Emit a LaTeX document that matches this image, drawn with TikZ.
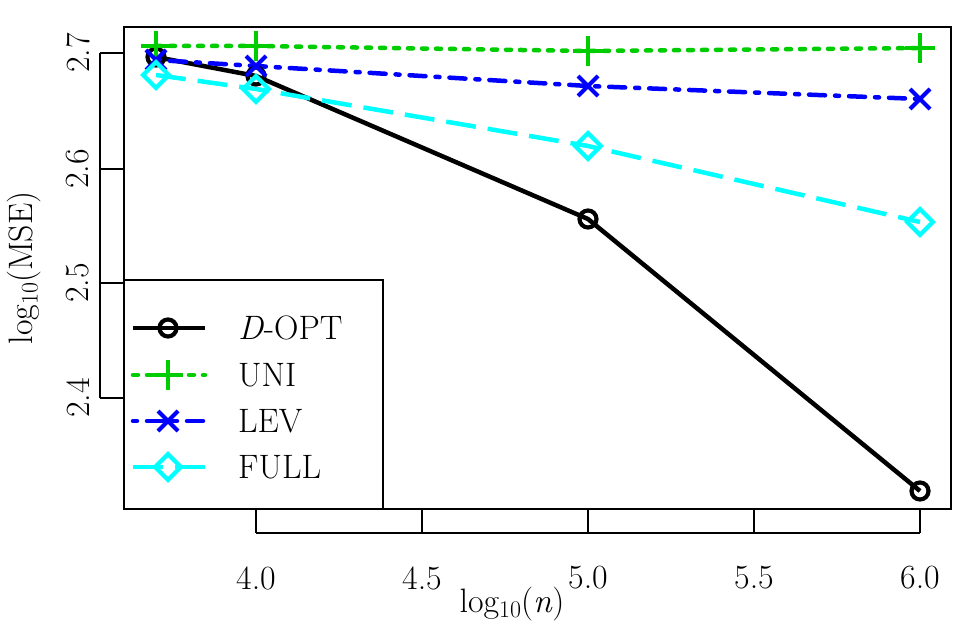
\documentclass[tikz,border=0pt]{standalone}
\usepackage{fontspec}
\definecolor{cgreen}{RGB}{0,205,0}
\definecolor{cblue}{RGB}{0,0,255}
\definecolor{ccyan}{RGB}{0,255,255}
\newcommand{\lgten}{log\raisebox{-0.35ex}{\fontsize{24}{28}\selectfont 10}}
\begin{document}
\begin{tikzpicture}[x=1bp,y=-1bp,
  lbl/.style={font=\fontsize{34}{40}\selectfont,inner sep=0pt},
  ln/.style={line width=4.5bp},
  dopt/.style={ln,black},
  uni/.style={ln,color=cgreen,dash pattern=on 5bp off 9bp,line cap=round},
  lev/.style={ln,cblue,dash pattern=on 4bp off 10bp on 16bp off 10bp,line cap=round},
  full/.style={ln,ccyan,dash pattern=on 30bp off 12bp},
  mk/.style={line width=4.2bp,solid}]
\useasboundingbox (0,0) rectangle (969,630);
\fill[white] (0,0) rectangle (969,630);
\coordinate (d1) at (156,57); \coordinate (d2) at (256,76); \coordinate (d3) at (588,219); \coordinate (d4) at (920,491);
\coordinate (u1) at (156,46); \coordinate (u2) at (256,46); \coordinate (u3) at (588,51); \coordinate (u4) at (920,48);
\coordinate (l1) at (156,60); \coordinate (l2) at (256,66); \coordinate (l3) at (588,86); \coordinate (l4) at (920,99);
\coordinate (f1) at (156,75); \coordinate (f2) at (256,89); \coordinate (f3) at (588,146); \coordinate (f4) at (920,222);
\draw[dopt] (d1)--(d2)--(d3)--(d4);
\draw[uni] (u1)--(u2)--(u3)--(u4);
\draw[lev] (l1)--(l2)--(l3)--(l4);
\draw[full] (f1)--(f2)--(f3)--(f4);
\foreach \p in {d1,d2,d3,d4}{\draw[mk,black] (\p) circle (8.5);}
\foreach \p in {u1,u2,u3,u4}{\draw[mk,cgreen] ([xshift=-15]\p)--([xshift=15]\p) ([yshift=-15]\p)--([yshift=15]\p);}
\foreach \p in {l1,l2,l3,l4}{\draw[mk,cblue] ([shift={(-10,-10)}]\p)--([shift={(10,10)}]\p) ([shift={(-10,10)}]\p)--([shift={(10,-10)}]\p);}
\foreach \p in {f1,f2,f3,f4}{\draw[mk,ccyan] ([xshift=-13]\p)--([yshift=-13]\p)--([xshift=13]\p)--([yshift=13]\p)--cycle;}
\draw[line width=1.5bp] (124,27) rectangle (951,509);
\foreach \x/\t in {256/4.0,422/4.5,588/5.0,754/5.5,920/6.0}{
  \draw[line width=1.5bp] (\x,509)--(\x,533);
  \node[lbl] (xt\x) at (\x,578) {\t};}
\draw[line width=1.5bp] (256,533)--(920,533);
\node[lbl] (xl) at (512,604) {\lgten(\textit{n})};
\foreach \y/\t in {53/2.7,169/2.6,283/2.5,398/2.4}{
  \draw[line width=1.5bp] (100,\y)--(124,\y);
  \node[lbl,rotate=90] (yt\y) at (78,\y) {\t};}
\draw[line width=1.5bp] (100,53)--(100,398);
\node[lbl,rotate=90] (yl) at (24,268) {\lgten(MSE)};
\draw[line width=1.5bp,fill=white] (124,280) rectangle (383,509);
\coordinate (a1) at (133,328); \coordinate (b1) at (205,328); \coordinate (m1) at (168,328);
\coordinate (a2) at (133,375); \coordinate (b2) at (205,375); \coordinate (m2) at (168,375);
\coordinate (a3) at (133,421); \coordinate (b3) at (205,421); \coordinate (m3) at (168,421);
\coordinate (a4) at (133,467); \coordinate (b4) at (205,467); \coordinate (m4) at (168,467);
\draw[dopt] (a1)--(b1); \draw[mk,black] (m1) circle (8.5);
\draw[uni] (a2)--(b2); \draw[mk,cgreen] ([xshift=-15]m2)--([xshift=15]m2) ([yshift=-15]m2)--([yshift=15]m2);
\draw[lev] (a3)--(b3); \draw[mk,cblue] ([shift={(-10,-10)}]m3)--([shift={(10,10)}]m3) ([shift={(-10,10)}]m3)--([shift={(10,-10)}]m3);
\draw[full] (a4)--(b4); \draw[mk,ccyan] ([xshift=-13]m4)--([yshift=-13]m4)--([xshift=13]m4)--([yshift=13]m4)--cycle;
\node[lbl,anchor=west] (t1) at (238,328) {\textit{D}-OPT};
\node[lbl,anchor=west] (t2) at (238,375) {UNI};
\node[lbl,anchor=west] (t3) at (238,421) {LEV};
\node[lbl,anchor=west] (t4) at (238,467) {FULL};
\end{tikzpicture}
\end{document}
